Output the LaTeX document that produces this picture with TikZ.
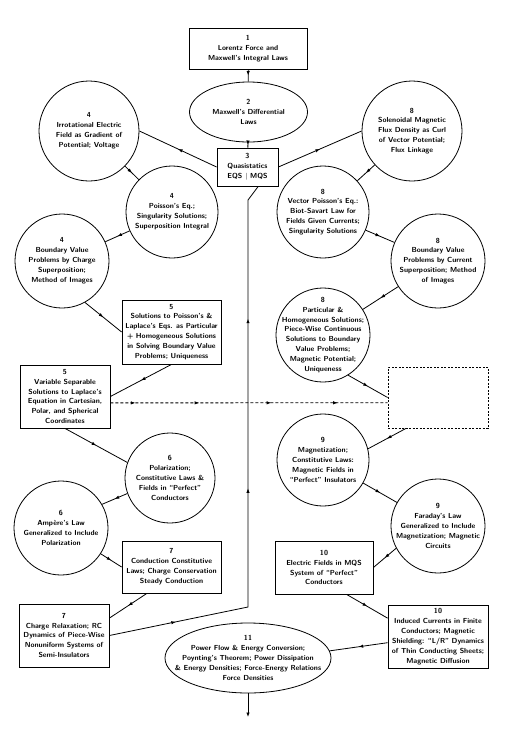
\documentclass[tikz,border=0pt]{standalone}
\usetikzlibrary{shapes.geometric,decorations.markings,arrows.meta}
\newcommand{\flowtip}{\arrow{Latex[length=4.5pt,width=3.4pt]}}

\begin{document}
\begin{tikzpicture}
[every node/.style={inner sep=0pt},
 every label/.style={align=center, font=\fontsize{7.3}{9.9}\selectfont\sffamily\bfseries},
 chap/.style={draw=black, line width=0.8pt},
 flow/.style={line width=0.8pt, postaction={decorate}, decoration={markings, mark=at position .5 with {\flowtip}}}]
\useasboundingbox [fill=white] (0pt,0pt) rectangle (513pt,-732pt);
% top of the chart
\node (b1) [chap, rectangle, minimum width=118pt, minimum height=41pt, label=center:{1\\Lorentz Force and\\Maxwell's Integral Laws}] at (248pt, -48.5pt) {};
\node (e2) [chap, ellipse, minimum width=118pt, minimum height=60pt, label=center:{2\\Maxwell's Differential\\Laws}] at (248.5pt, -112pt) {};
\node (b3) [chap, rectangle, minimum width=61pt, minimum height=38pt, label=center:{3\\Quasistatics\\EQS $|$ MQS}] at (247.5pt, -167pt) {};
% EQS side
\node (c4a) [chap, circle, minimum size=100pt, label=center:{4\\Irrotational Electric\\Field as Gradient of\\Potential; Voltage}] at (89pt, -131pt) {};
\node (c4b) [chap, circle, minimum size=92pt, label=center:{4\\Poisson's Eq.;\\Singularity Solutions;\\Superposition Integral}] at (172pt, -212pt) {};
\node (c4c) [chap, circle, minimum size=94pt, label=center:{4\\Boundary Value\\Problems by Charge\\Superposition;\\Method of Images}] at (62pt, -261pt) {};
\node (b5a) [chap, rectangle, minimum width=99pt, minimum height=64pt, label=center:{5\\Solutions to Poisson's \&\\Laplace's Eqs. as Particular\\+ Homogeneous Solutions\\in Solving Boundary Value\\Problems; Uniqueness}] at (171.5pt, -332pt) {};
\node (b5b) [chap, rectangle, minimum width=90pt, minimum height=63pt, label=center:{5\\Variable Separable\\Solutions to Laplace's\\Equation in Cartesian,\\Polar, and Spherical\\Coordinates}] at (65pt, -396.5pt) {};
\node (c6a) [chap, circle, minimum size=90pt, label=center:{6\\Polarization;\\Constitutive Laws \&\\Fields in ``Perfect''\\Conductors}] at (170pt, -478pt) {};
\node (c6b) [chap, circle, minimum size=94pt, label=center:{6\\Amp\`ere's Law\\Generalized to Include\\Polarization}] at (61pt, -528pt) {};
\node (b7a) [chap, rectangle, minimum width=99pt, minimum height=52pt, label=center:{7\\Conduction Constitutive\\Laws; Charge Conservation\\Steady Conduction}] at (171.5pt, -567pt) {};
\node (b7b) [chap, rectangle, minimum width=90pt, minimum height=63pt, label=center:{7\\Charge Relaxation; RC\\Dynamics of Piece-Wise\\Nonuniform Systems of\\Semi-Insulators}] at (64pt, -635.5pt) {};
% MQS side
\node (c8a) [chap, circle, minimum size=100pt, label=center:{8\\Solenoidal Magnetic\\Flux Density as Curl\\of Vector Potential;\\Flux Linkage}] at (412pt, -131pt) {};
\node (c8b) [chap, circle, minimum size=92pt, label=center:{8\\Vector Poisson's Eq.:\\Biot-Savart Law for\\Fields Given Currents;\\Singularity Solutions}] at (323pt, -212pt) {};
\node (c8c) [chap, circle, minimum size=94pt, label=center:{8\\Boundary Value\\Problems by Current\\Superposition; Method\\of Images}] at (438pt, -261pt) {};
\node (c8d) [chap, circle, minimum size=94pt, label=center:{8\\Particular \&\\Homogeneous Solutions;\\Piece-Wise Continuous\\Solutions to Boundary\\Value Problems;\\Magnetic Potential;\\Uniqueness}] at (323pt, -335pt) {};
\node (bx) [chap, rectangle, dash pattern=on 2pt off 1.5pt, minimum width=100pt, minimum height=61pt] at (438pt, -397.5pt) {};
\node (c9a) [chap, circle, minimum size=92pt, label=center:{9\\Magnetization;\\Constitutive Laws:\\Magnetic Fields in\\``Perfect'' Insulators}] at (323pt, -460pt) {};
\node (c9b) [chap, circle, minimum size=94pt, label=center:{9\\Faraday's Law\\Generalized to Include\\Magnetization; Magnetic\\Circuits}] at (438pt, -526pt) {};
\node (b10a) [chap, rectangle, minimum width=98pt, minimum height=53pt, label=center:{10\\Electric Fields in MQS\\System of ``Perfect''\\Conductors}] at (324pt, -567.5pt) {};
\node (b10b) [chap, rectangle, minimum width=100pt, minimum height=63pt, label=center:{10\\Induced Currents in Finite\\Conductors; Magnetic\\Shielding: ``L/R'' Dynamics\\of Thin Conducting Sheets;\\Magnetic Diffusion}] at (438pt, -636.5pt) {};
% bottom
\node (e11) [chap, ellipse, minimum width=166pt, minimum height=70pt, label=center:{11\\Power Flow \& Energy Conversion;\\Poynting's Theorem; Power Dissipation\\\& Energy Densities; Force-Energy Relations\\Force Densities}] at (248pt, -658pt) {};
\coordinate (lowbend) at (248pt, -607pt);
\coordinate (topbend) at (248pt, -200pt);
\coordinate (out) at (248pt, -717pt);
\draw [flow] (b1) -- (e2);
\draw [flow] (e2) -- (b3);
\draw [flow] (b3.west) -- (c4a.east);
\draw [flow] (c4a) -- (c4b);
\draw [flow] (c4b) -- (c4c);
\draw [flow] (c4c.-61) -- (b5a.west);
\draw [flow] (b5a.south) -- (b5b.east);
\draw [flow] (b5b.south) -- (c6a.160);
\draw [flow] (c6a.200) -- (c6b.30);
\draw [flow] (c6b.-33) -- (b7a.west);
\draw [flow] (b7a.227) -- (b7b.21);
\draw [line width=0.8pt, postaction={decorate}, decoration={markings, mark=at position .12 with {\flowtip}, mark=at position .46 with {\flowtip}, mark=at position .76 with {\flowtip}}] (b7b.east) -- (lowbend) -- (topbend) -- (b3.-61);
\draw [flow] (b3.east) -- (c8a.west);
\draw [flow] (c8a) -- (c8b);
\draw [flow] (c8b) -- (c8c);
\draw [flow] (c8c) -- (c8d);
\draw [flow] (c8d.-58) -- (bx.west);
\draw [line width=0.8pt, dash pattern=on 3pt off 2pt, postaction={decorate}, decoration={markings, mark=at position .09 with {\flowtip}, mark=at position .32 with {\flowtip}, mark=at position .58 with {\flowtip}, mark=at position .82 with {\flowtip}}] (b5b.-8) -- (bx.186);
\draw [flow] (bx.224) -- (c9a.14);
\draw [flow] (c9a) -- (c9b);
\draw [flow] (c9b.208) -- (b10a.east);
\draw [flow] (b10a.-50) -- (b10b.160);
\draw [flow] (b10b.187) -- (e11.5);
\draw [line width=0.8pt, -{Latex[length=4.5pt,width=3.4pt]}] (e11.south) -- (out);
\end{tikzpicture}
\end{document}
